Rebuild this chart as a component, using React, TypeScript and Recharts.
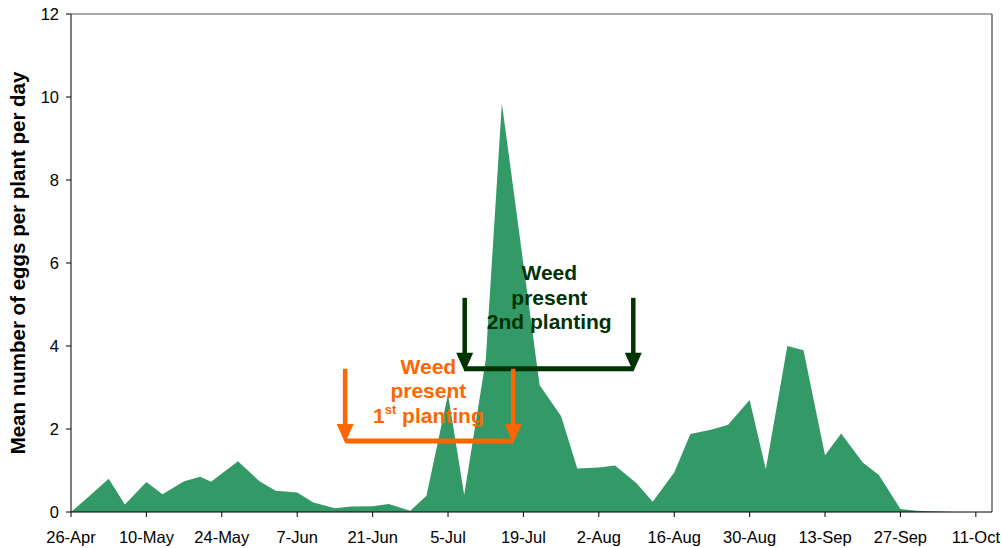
import React from 'react';
import { AreaChart, Area, XAxis, YAxis, ReferenceLine, ReferenceDot } from 'recharts';

// days since 26-Apr when the plants were sampled
const sampleDays = [
  0, 3, 7, 10, 14, 17, 21, 24, 26, 31, 35, 38, 42, 45, 49, 52, 56, 59, 63, 66, 70, 73, 77, 80,
  87, 91, 94, 98, 101, 105, 108, 112, 115, 119, 122, 126, 129, 133, 136, 140, 143, 147, 150,
  154, 157, 161, 164, 168,
];
const eggsPerPlant = [
  0, 0.34, 0.8, 0.18, 0.72, 0.43, 0.74, 0.85, 0.73, 1.22, 0.74, 0.51, 0.47, 0.23, 0.09, 0.13,
  0.14, 0.19, 0.03, 0.39, 2.84, 0.41, 3.66, 9.85, 3.06, 2.31, 1.05, 1.07, 1.12, 0.69, 0.25, 0.95,
  1.88, 1.99, 2.1, 2.7, 1.03, 4.0, 3.9, 1.37, 1.89, 1.19, 0.89, 0.07, 0.03, 0.01, 0, 0,
];

const xTicks = [0, 14, 28, 42, 56, 70, 84, 98, 112, 126, 140, 154, 168];
const xTickLabels = [
  '26-Apr', '10-May', '24-May', '7-Jun', '21-Jun', '5-Jul', '19-Jul',
  '2-Aug', '16-Aug', '30-Aug', '13-Sep', '27-Sep', '11-Oct',
];
const yTicks = [0, 2, 4, 6, 8, 10, 12];

// weed present periods: [start day, end day]
const firstPlanting = [50.9, 82.1];
const secondPlanting = [73.1, 104.4];

const data = sampleDays.map((day, i) => ({ day, eggs: eggsPerPlant[i] }));

const ORANGE = '#ff6600';
const DARK_GREEN = '#003300';
const FONT = '"Liberation Sans", Arial, sans-serif';

function arrowShape(color: string) {
  return (props: any) => {
    const { x1, y1, x2, y2 } = props;
    const head = 19;
    return (
      <g>
        <line x1={x1} y1={y1} x2={x2} y2={y2 - head + 2} stroke={color} strokeWidth={4.5} />
        <polygon points={`${x2 - 8.5},${y2 - head} ${x2 + 8.5},${y2 - head} ${x2},${y2}`} fill={color} />
      </g>
    );
  };
}

function noteShape(lines: React.ReactNode[], color: string) {
  return (props: any) => (
    <text
      x={props.cx}
      y={props.cy}
      textAnchor="middle"
      fill={color}
      fontFamily={FONT}
      fontWeight="bold"
      fontSize={21}
    >
      {lines.map((l, i) => (
        <tspan key={i} x={props.cx} dy={i === 0 ? 0 : 24.5}>
          {l}
        </tspan>
      ))}
    </text>
  );
}

const YTitle = (props: any) => {
  const vb = props.viewBox || { x: 0, y: 14, width: 71, height: 498 };
  const cx = vb.x + 17;
  const cy = vb.y + vb.height / 2;
  return (
    <text
      x={cx}
      y={cy}
      transform={`rotate(-90 ${cx} ${cy})`}
      textAnchor="middle"
      dominantBaseline="central"
      fontFamily={FONT}
      fontWeight="bold"
      fontSize={20.5}
      fill="#000"
    >
      Mean number of eggs per plant per day
    </text>
  );
};

export default function App() {
  const tickStyle = { fontFamily: FONT, fontSize: 16.5, fill: '#000' };
  return (
    <div style={{ position: 'absolute', left: 0, top: 0, background: '#fff' }}>
      <AreaChart width={1002} height={548} data={data} margin={{ top: 14, right: 10, bottom: 0, left: 0 }}>
        <XAxis
          dataKey="day"
          type="number"
          domain={[0, 171]}
          ticks={xTicks}
          tickFormatter={(v: number) => xTickLabels[xTicks.indexOf(v)] ?? ''}
          interval={0}
          height={36}
          tick={tickStyle}
          tickSize={5}
          tickMargin={14}
          stroke="#000"
          axisLine={{ stroke: '#000' }}
          tickLine={{ stroke: '#000' }}
        />
        <YAxis
          type="number"
          domain={[0, 12]}
          ticks={yTicks}
          interval={0}
          width={71}
          tick={tickStyle}
          tickSize={5}
          tickMargin={7}
          axisLine={{ stroke: '#000' }}
          tickLine={{ stroke: '#000' }}
          label={<YTitle />}
        />
        <ReferenceLine y={12} stroke="#8c8c8c" strokeWidth={1.5} />
        <ReferenceLine x={171} stroke="#8c8c8c" strokeWidth={2} />
        <Area
          type="linear"
          dataKey="eggs"
          stroke="none"
          fill="#339966"
          fillOpacity={1}
          isAnimationActive={false}
        />

        {/* 2nd planting bracket */}
        <ReferenceLine
          segment={[{ x: secondPlanting[0], y: 3.45 }, { x: secondPlanting[1], y: 3.45 }]}
          stroke={DARK_GREEN}
          strokeWidth={5}
        />
        <ReferenceLine
          segment={[{ x: secondPlanting[0], y: 5.16 }, { x: secondPlanting[0], y: 3.38 }]}
          shape={arrowShape(DARK_GREEN)}
        />
        <ReferenceLine
          segment={[{ x: secondPlanting[1], y: 5.16 }, { x: secondPlanting[1], y: 3.38 }]}
          shape={arrowShape(DARK_GREEN)}
        />
        <ReferenceDot
          x={88.8}
          y={5.59}
          r={0}
          ifOverflow="visible"
          shape={noteShape(['Weed', 'present', '2nd planting'], DARK_GREEN)}
        />

        {/* 1st planting bracket */}
        <ReferenceLine
          segment={[{ x: firstPlanting[0], y: 1.71 }, { x: firstPlanting[1], y: 1.71 }]}
          stroke={ORANGE}
          strokeWidth={5}
        />
        <ReferenceLine
          segment={[{ x: firstPlanting[0], y: 3.45 }, { x: firstPlanting[0], y: 1.66 }]}
          shape={arrowShape(ORANGE)}
        />
        <ReferenceLine
          segment={[{ x: firstPlanting[1], y: 3.45 }, { x: firstPlanting[1], y: 1.66 }]}
          shape={arrowShape(ORANGE)}
        />
        <ReferenceDot
          x={66.35}
          y={3.33}
          r={0}
          ifOverflow="visible"
          shape={noteShape(
            [
              'Weed',
              'present',
              <>
                1<tspan fontSize={13} dy={-9}>st</tspan>
                <tspan dy={9}> planting</tspan>
              </>,
            ],
            ORANGE,
          )}
        />
      </AreaChart>
    </div>
  );
}
